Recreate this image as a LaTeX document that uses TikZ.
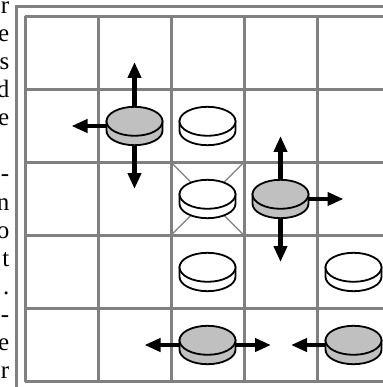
\documentclass[tikz,border=0pt]{standalone}
\usepackage{fontspec}
\setmainfont{Liberation Serif}
\usetikzlibrary{arrows.meta}
\definecolor{gridgray}{RGB}{128,128,128}
\definecolor{discgray}{RGB}{192,192,192}
\begin{document}
\begin{tikzpicture}[x=1pt,y=-1pt,
  gridline/.style={draw=gridgray,line width=3pt},
  crossline/.style={draw=gridgray,line width=1.3pt},
  arr/.style={line width=4.5pt,-{Triangle[length=16pt,width=13pt]}},
  txt/.style={anchor=base east,inner sep=0pt,font=\fontsize{25}{28}\selectfont},
  pics/disc/.style={code={
    \filldraw[fill=#1,draw=black,line width=1.8pt] (-28,-4.7) -- (-28,4.7)
      arc[start angle=180,end angle=0,x radius=28,y radius=14.5] -- (28,-4.7) -- cycle;
    \filldraw[fill=#1,draw=black,line width=1.8pt] (0,-4.7) ellipse[x radius=28,y radius=14.5];
  }}]
\useasboundingbox (0,0) rectangle (382,387);
% cut-off text column on the left
\foreach \ch/\yy in {r/14, e/42, s/70, d/98, e/126, -/182, n/210, o/238, t/266, ./294, -/322, e/350, r/378}
  \node[txt] (t\yy) at (9.5,\yy) {\ch};
% outer frame
\draw[gridline] (16,400) -- (16,6.7) -- (400,6.7);
% grid
\foreach \i in {0,...,5} {
  \draw[gridline] ({25+73*\i},16.5) -- ({25+73*\i},381.5);
  \draw[gridline] (25,{16.5+72.9*\i}) -- (400,{16.5+72.9*\i});
}
% cross in the middle cell
\coordinate (ca) at (171,162.3);
\coordinate (cb) at (244,235.3);
\coordinate (cc) at (244,162.3);
\coordinate (cd) at (171,235.3);
\draw[crossline] (ca) -- (cb);
\draw[crossline] (cc) -- (cd);
% disc centres
\coordinate (g1) at (134.5,126);
\coordinate (w1) at (207.5,126);
\coordinate (w2) at (207.5,199);
\coordinate (g2) at (280.5,199);
\coordinate (w3) at (207.5,272);
\coordinate (w4) at (353.5,272);
\coordinate (g3) at (207.5,345);
\coordinate (g4) at (353.5,345);
% arrow tips
\coordinate (g1u) at (134.5,62);
\coordinate (g1d) at (134.5,189);
\coordinate (g1l) at (71.5,126);
\coordinate (g2u) at (280.5,136);
\coordinate (g2d) at (280.5,262);
\coordinate (g2r) at (343.5,199);
\coordinate (g3l) at (144.5,345);
\coordinate (g3r) at (271,345);
\coordinate (g4l) at (291,345);
% arrows
\draw[arr] (g1) -- (g1u);
\draw[arr] (g1) -- (g1d);
\draw[arr] (g1) -- (g1l);
\draw[arr] (g2) -- (g2u);
\draw[arr] (g2) -- (g2d);
\draw[arr] (g2) -- (g2r);
\draw[arr] (g3) -- (g3l);
\draw[arr] (g3) -- (g3r);
\draw[arr] (g4) -- (g4l);
% discs
\pic at (g1) {disc=discgray};
\pic at (w1) {disc=white};
\pic at (w2) {disc=white};
\pic at (g2) {disc=discgray};
\pic at (w3) {disc=white};
\pic at (w4) {disc=white};
\pic at (g3) {disc=discgray};
\pic at (g4) {disc=discgray};
\end{tikzpicture}
\end{document}
